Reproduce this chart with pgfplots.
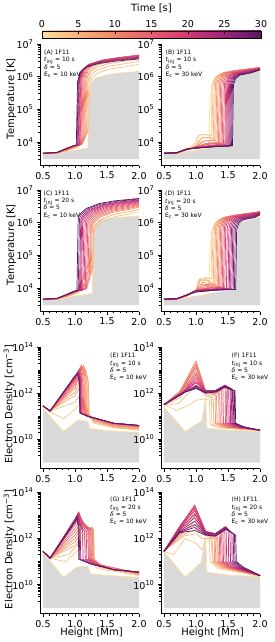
\documentclass[border=0pt]{standalone}
\usepackage{fontspec}
\setmainfont{DejaVu Sans}
\usepackage{pgfplots}
\pgfplotsset{compat=1.18}
\definecolor{c0}{RGB}{252,223,160}
\definecolor{c1}{RGB}{249,196,135}
\definecolor{c2}{RGB}{246,170,118}
\definecolor{c3}{RGB}{243,143,108}
\definecolor{c4}{RGB}{238,118,107}
\definecolor{c5}{RGB}{230,95,110}
\definecolor{c6}{RGB}{218,73,115}
\definecolor{c7}{RGB}{199,53,120}
\definecolor{c8}{RGB}{170,40,122}
\definecolor{c9}{RGB}{130,32,115}
\definecolor{c10}{RGB}{85,25,95}
\definecolor{m0}{RGB}{251,210,148}
\definecolor{m1}{RGB}{248,183,127}
\definecolor{m2}{RGB}{245,157,113}
\definecolor{m3}{RGB}{241,131,108}
\definecolor{m4}{RGB}{234,107,109}
\definecolor{m5}{RGB}{224,84,113}
\definecolor{m6}{RGB}{209,63,118}
\definecolor{m7}{RGB}{185,47,121}
\definecolor{m8}{RGB}{150,36,119}
\definecolor{m9}{RGB}{108,29,105}
\definecolor{fillgray}{RGB}{217,217,217}
\pgfplotsset{
  colormap={timecm}{rgb255=(252,223,160) rgb255=(249,196,135) rgb255=(246,170,118) rgb255=(243,143,108) rgb255=(238,118,107) rgb255=(230,95,110) rgb255=(218,73,115) rgb255=(199,53,120) rgb255=(170,40,122) rgb255=(130,32,115) rgb255=(85,25,95)},
  mypanel/.style={scale only axis, width=99pt, height=121.5pt, xmin=0.453, xmax=2.0,
    axis x line*=bottom, axis y line*=left,
    xtick={0.5,1.0,1.5,2.0}, xticklabels={0.5,1.0,1.5,2.0},
    minor xtick={0.6,0.7,0.8,0.9,1.1,1.2,1.3,1.4,1.6,1.7,1.8,1.9},
    tick align=outside, major tick length=3pt, minor tick length=1.7pt,
    every tick/.style={black, line width=0.6pt},
    axis line style={black, line width=0.7pt},
    tick label style={font=\fontsize{9.5}{11}\selectfont},
    label style={font=\fontsize{10}{12}\selectfont},
    clip=false, no markers,
    every axis plot/.append style={line width=0.7pt}},
  mytemp/.style={mypanel, ymin=1900, ymax=1e7, ytick={1e4,1e5,1e6,1e7},
    yticklabels={10\textsuperscript{4},10\textsuperscript{5},10\textsuperscript{6},10\textsuperscript{7}},
    minor ytick={3e3,4e3,5e3,6e3,7e3,8e3,9e3,2e4,3e4,4e4,5e4,6e4,7e4,8e4,9e4,2e5,3e5,4e5,5e5,6e5,7e5,8e5,9e5,2e6,3e6,4e6,5e6,6e6,7e6,8e6,9e6}},
  mydens/.style={mypanel, ymin=5.5e8, ymax=1e14, ytick={1e10,1e12,1e14},
    yticklabels={10\textsuperscript{10},10\textsuperscript{12},10\textsuperscript{14}},
    minor ytick={2e9,3e9,4e9,5e9,6e9,7e9,8e9,9e9,2e10,3e10,4e10,5e10,6e10,7e10,8e10,9e10,1e11,2e11,3e11,4e11,5e11,6e11,7e11,8e11,9e11,2e12,3e12,4e12,5e12,6e12,7e12,8e12,9e12,1e13,2e13,3e13,4e13,5e13,6e13,7e13,8e13,9e13}},
  mytlab/.style={ylabel={Temperature [K]}, ylabel style={at={(axis description cs:-0.288,0.55)}, anchor=center}},
  mydlab/.style={ylabel={Electron Density [cm\textsuperscript{−3}]}, ylabel style={at={(axis description cs:-0.313,0.53)}, anchor=center}},
  myhlab/.style={xlabel={Height [Mm]}, xlabel style={at={(axis description cs:0.52,-0.159)}, anchor=center}},
}
\tikzset{anno/.style={anchor=north west, inner sep=0pt, align=left, font=\fontsize{6}{7.3}\selectfont}}
\begin{document}
\begin{tikzpicture}[x=1pt,y=1pt]
\useasboundingbox (0,0) rectangle (275,-642);
% colorbar
\begin{axis}[at={(42pt,-29.3pt)}, anchor=south west, scale only axis, width=219pt, height=7pt, hide axis,
  xmin=0, xmax=1, ymin=0, ymax=1, colormap name=timecm, point meta min=0, point meta max=30,
  colorbar horizontal,
  colorbar style={at={(parent axis.south west)}, anchor=south west, scale only axis, width=219pt, height=7pt,
    xtick={0,5,10,15,20,25,30}, xticklabels={0,5,10,15,20,25,30},
    minor xtick={1,2,3,4,6,7,8,9,11,12,13,14,16,17,18,19,21,22,23,24,26,27,28,29},
    xticklabel pos=upper, xtick pos=right, tick align=inside, major tick length=3pt, minor tick length=1.5pt,
    every tick/.style={black, line width=0.5pt}, xlabel={Time [s]},
    tick label style={font=\fontsize{9.5}{11}\selectfont}, label style={font=\fontsize{10}{12}\selectfont}}]
\addplot[draw=none, forget plot] coordinates {(0,0)};
\end{axis}
% ---------------- A
\begin{axis}[mytemp, ymode=log, mytlab, at={(40pt,-165.5pt)}, anchor=south west]
\addplot[fill=fillgray, draw=none] coordinates {(0.5,3000)(0.5,4500)(0.72,4500)(0.9,5200)(1.1,6000)(1.2,6500)(1.22,2e5)(1.25,6e5)(1.32,9e5)(1.5,1.15e6)(1.75,1.32e6)(2.0,1.45e6)(2.0,3000)};
\addplot[c0] coordinates {(0.5,4500)(0.72,4500)(0.9,5200)(1.1,6000)(1.2,6500)(1.22,2e5)(1.25,6e5)(1.32,9e5)(1.5,1.15e6)(1.75,1.32e6)(2.0,1.45e6)};
\addplot[c1] coordinates {(0.5,4500)(0.72,4550)(0.9,5600)(1.05,7000)(1.13,1.2e4)(1.19,1.8e4)(1.21,2.2e4)(1.23,4.8e5)(1.27,9.1e5)(1.36,1.32e6)(1.56,1.73e6)(1.81,2.04e6)(2.0,2.4e6)};
\addplot[m1] coordinates {(0.5,4500)(0.72,4580)(0.9,5700)(1.03,7100)(1.12,1.15e4)(1.175,1.7e4)(1.195,2.0e4)(1.215,5.9e5)(1.255,1.12e6)(1.345,1.62e6)(1.545,2.12e6)(1.795,2.51e6)(2.0,2.95e6)};
\addplot[c2] coordinates {(0.5,4500)(0.72,4600)(0.9,5800)(1.02,7200)(1.1,1.1e4)(1.16,1.6e4)(1.18,1.8e4)(1.2,7e5)(1.24,1.33e6)(1.33,1.93e6)(1.53,2.52e6)(1.78,2.98e6)(2.0,3.5e6)};
\addplot[m2] coordinates {(0.5,4500)(0.72,4600)(0.9,5900)(1.02,7350)(1.1,1.05e4)(1.165,1.4e4)(1.185,7.9e5)(1.225,1.5e6)(1.315,2.17e6)(1.515,2.84e6)(1.765,3.36e6)(2.0,3.95e6)};
\addplot[c3] coordinates {(0.5,4500)(0.72,4600)(0.9,6000)(1.02,7500)(1.1,1.0e4)(1.15,1.2e4)(1.17,8.8e5)(1.21,1.67e6)(1.30,2.42e6)(1.50,3.17e6)(1.75,3.74e6)(2.0,4.4e6)};
\addplot[m3] coordinates {(0.5,4500)(0.72,4620)(0.9,6100)(1.02,7550)(1.1,9200)(1.135,1.05e4)(1.155,9.0e5)(1.195,1.71e6)(1.285,2.48e6)(1.485,3.24e6)(1.735,3.83e6)(2.0,4.5e6)};
\addplot[c4] coordinates {(0.5,4500)(0.72,4650)(0.9,6200)(1.02,7600)(1.1,8500)(1.12,9000)(1.14,9.2e5)(1.18,1.75e6)(1.27,2.53e6)(1.47,3.31e6)(1.72,3.91e6)(2.0,4.6e6)};
\addplot[m4] coordinates {(0.5,4500)(0.72,4680)(0.9,6250)(1.0,7500)(1.105,8600)(1.125,9.1e5)(1.165,1.73e6)(1.255,2.5e6)(1.455,3.28e6)(1.705,3.87e6)(2.0,4.55e6)};
\addplot[c5] coordinates {(0.5,4500)(0.72,4700)(0.9,6300)(1.0,7600)(1.09,8200)(1.11,9e5)(1.15,1.71e6)(1.24,2.48e6)(1.44,3.24e6)(1.69,3.83e6)(2.0,4.5e6)};
\addplot[m5] coordinates {(0.5,4500)(0.72,4700)(0.9,6350)(1.0,7650)(1.08,8100)(1.10,8.8e5)(1.14,1.67e6)(1.23,2.42e6)(1.43,3.17e6)(1.68,3.74e6)(2.0,4.4e6)};
\addplot[c6] coordinates {(0.5,4500)(0.72,4700)(0.9,6400)(1.0,7700)(1.07,8000)(1.09,8.6e5)(1.13,1.63e6)(1.22,2.37e6)(1.42,3.1e6)(1.67,3.66e6)(2.0,4.3e6)};
\addplot[m6] coordinates {(0.5,4500)(0.72,4720)(0.9,6450)(1.0,7750)(1.06,8000)(1.08,8.4e5)(1.12,1.6e6)(1.21,2.31e6)(1.41,3.02e6)(1.66,3.57e6)(2.0,4.2e6)};
\addplot[c7] coordinates {(0.5,4500)(0.72,4750)(0.9,6500)(1.0,7800)(1.05,8000)(1.07,8.2e5)(1.11,1.56e6)(1.2,2.26e6)(1.4,2.95e6)(1.65,3.49e6)(2.0,4.1e6)};
\addplot[c8] coordinates {(0.5,4500)(0.72,4800)(0.9,6600)(1.0,7800)(1.04,8000)(1.06,7.8e5)(1.1,1.48e6)(1.19,2.15e6)(1.39,2.81e6)(1.64,3.32e6)(2.0,3.9e6)};
\addplot[c9] coordinates {(0.5,4500)(0.72,4800)(0.9,6700)(1.0,7900)(1.03,8000)(1.05,7.4e5)(1.09,1.41e6)(1.18,2.04e6)(1.38,2.66e6)(1.63,3.15e6)(2.0,3.7e6)};
\addplot[c10] coordinates {(0.5,4500)(0.72,4800)(0.9,6800)(1.0,7900)(1.02,8000)(1.04,7e5)(1.08,1.33e6)(1.17,1.93e6)(1.37,2.52e6)(1.62,2.98e6)(2.0,3.5e6)};
\end{axis}
% ---------------- B
\begin{axis}[mytemp, ymode=log, at={(161pt,-165.5pt)}, anchor=south west]
\addplot[fill=fillgray, draw=none] coordinates {(0.5,3000)(0.5,4500)(0.72,4500)(0.9,5200)(1.1,6000)(1.2,6400)(1.3,7000)(1.57,7600)(1.585,5.6e5)(1.62,8.8e5)(1.7,1.1e6)(1.87,1.3e6)(2.0,1.45e6)(2.0,3000)};
\addplot[c0] coordinates {(0.5,4500)(0.72,4500)(0.9,5200)(1.1,6000)(1.2,6500)(1.22,2e5)(1.25,6e5)(1.32,9e5)(1.5,1.15e6)(1.75,1.32e6)(2.0,1.45e6)};
\addplot[m0] coordinates {(0.5,4500)(0.7,4600)(0.85,5500)(1.0,8000)(1.05,1.6e4)(1.15,1.7e4)(1.235,1.5e4)(1.25,5.6e5)(1.285,8.8e5)(1.355,1.12e6)(1.535,1.31e6)(2.0,1.6e6)};
\addplot[c1] coordinates {(0.5,4500)(0.7,4600)(0.85,5500)(0.98,9000)(1.02,1.5e4)(1.1,1.7e4)(1.2,1.6e4)(1.25,1.6e4)(1.265,6e5)(1.3,9.4e5)(1.37,1.19e6)(1.55,1.39e6)(2.0,1.7e6)};
\addplot[m1] coordinates {(0.5,4500)(0.7,4600)(0.85,5600)(1.0,7800)(1.1,1.4e4)(1.27,1.3e4)(1.285,6.2e5)(1.32,9.8e5)(1.39,1.25e6)(1.57,1.46e6)(2.0,1.78e6)};
\addplot[c2] coordinates {(0.5,4500)(0.7,4600)(0.85,5600)(1.0,7500)(1.08,1.3e4)(1.2,1.4e4)(1.29,1.2e4)(1.305,6.5e5)(1.34,1.02e6)(1.41,1.3e6)(1.59,1.52e6)(2.0,1.85e6)};
\addplot[m2] coordinates {(0.5,4500)(0.7,4600)(0.85,5650)(1.0,7300)(1.15,1.1e4)(1.31,1.1e4)(1.325,6.6e5)(1.36,1.03e6)(1.43,1.32e6)(1.61,1.54e6)(2.0,1.88e6)};
\addplot[c3] coordinates {(0.5,4500)(0.7,4600)(0.85,5700)(1.0,7200)(1.1,1.05e4)(1.25,1.15e4)(1.33,1.05e4)(1.345,6.6e5)(1.38,1.05e6)(1.45,1.33e6)(1.63,1.56e6)(2.0,1.9e6)};
\addplot[m3] coordinates {(0.5,4500)(0.7,4600)(0.85,5750)(1.0,7100)(1.2,9500)(1.35,9500)(1.365,6.65e5)(1.4,1.05e6)(1.47,1.33e6)(1.65,1.56e6)(2.0,1.9e6)};
\addplot[c4] coordinates {(0.5,4500)(0.7,4600)(0.85,5800)(1.0,7000)(1.15,9000)(1.37,9500)(1.385,6.6e5)(1.42,1.05e6)(1.49,1.33e6)(1.67,1.56e6)(2.0,1.9e6)};
\addplot[m4] coordinates {(0.5,4500)(0.7,4600)(0.85,5850)(1.0,7000)(1.2,8700)(1.39,9200)(1.405,6.6e5)(1.44,1.03e6)(1.51,1.32e6)(1.69,1.54e6)(2.0,1.88e6)};
\addplot[c5] coordinates {(0.5,4500)(0.7,4600)(0.85,5900)(1.0,7000)(1.2,8500)(1.41,9000)(1.425,6.5e5)(1.46,1.02e6)(1.53,1.3e6)(1.71,1.52e6)(2.0,1.85e6)};
\addplot[m5] coordinates {(0.5,4500)(0.7,4620)(0.85,5950)(1.0,6900)(1.3,8200)(1.43,8600)(1.445,6.4e5)(1.48,1.0e6)(1.55,1.28e6)(1.73,1.5e6)(2.0,1.83e6)};
\addplot[c6] coordinates {(0.5,4500)(0.7,4650)(0.85,6000)(1.0,6800)(1.3,8000)(1.45,8300)(1.465,6.3e5)(1.5,9.9e5)(1.57,1.26e6)(1.75,1.48e6)(2.0,1.8e6)};
\addplot[m6] coordinates {(0.5,4500)(0.7,4650)(0.85,6000)(1.0,6750)(1.3,7800)(1.465,8000)(1.48,6.2e5)(1.515,9.8e5)(1.585,1.25e6)(1.765,1.46e6)(2.0,1.78e6)};
\addplot[c7] coordinates {(0.5,4500)(0.7,4650)(0.85,6000)(1.0,6700)(1.3,7600)(1.48,7800)(1.495,6.1e5)(1.53,9.6e5)(1.6,1.23e6)(1.78,1.44e6)(2.0,1.75e6)};
\addplot[m7] coordinates {(0.5,4500)(0.7,4680)(0.85,6000)(1.0,6650)(1.3,7500)(1.495,7600)(1.51,6.1e5)(1.545,9.5e5)(1.615,1.21e6)(1.795,1.42e6)(2.0,1.73e6)};
\addplot[c8] coordinates {(0.5,4500)(0.7,4700)(0.85,6000)(1.0,6600)(1.3,7300)(1.51,7500)(1.525,6e5)(1.56,9.4e5)(1.63,1.19e6)(1.81,1.39e6)(2.0,1.7e6)};
\addplot[m8] coordinates {(0.5,4500)(0.7,4700)(0.85,6000)(1.0,6550)(1.3,7250)(1.525,7500)(1.54,5.9e5)(1.575,9.2e5)(1.645,1.18e6)(1.825,1.38e6)(2.0,1.68e6)};
\addplot[c9] coordinates {(0.5,4500)(0.7,4700)(0.85,6000)(1.0,6500)(1.3,7200)(1.54,7600)(1.555,5.8e5)(1.59,9.1e5)(1.66,1.16e6)(1.84,1.35e6)(2.0,1.65e6)};
\addplot[m9] coordinates {(0.5,4500)(0.7,4700)(0.85,6000)(1.0,6450)(1.3,7200)(1.555,7650)(1.57,5.7e5)(1.605,9.0e5)(1.675,1.14e6)(1.855,1.34e6)(2.0,1.63e6)};
\addplot[c10] coordinates {(0.5,4500)(0.7,4700)(0.85,6000)(1.0,6400)(1.3,7200)(1.57,7700)(1.585,5.6e5)(1.62,8.8e5)(1.69,1.12e6)(1.87,1.31e6)(2.0,1.6e6)};
\end{axis}
% ---------------- C
\begin{axis}[mytemp, ymode=log, mytlab, at={(40pt,-311.5pt)}, anchor=south west]
\addplot[fill=fillgray, draw=none] coordinates {(0.5,3000)(0.5,4500)(0.72,4500)(0.9,5200)(1.1,6000)(1.27,6800)(1.29,2.5e5)(1.31,8e5)(1.38,1.2e6)(1.6,1.4e6)(2.0,1.6e6)(2.0,3000)};
\addplot[c0] coordinates {(0.5,4500)(0.72,4500)(0.9,5200)(1.1,6000)(1.27,6800)(1.29,2.5e5)(1.31,8e5)(1.38,1.2e6)(1.6,1.4e6)(2.0,1.6e6)};
\addplot[c1] coordinates {(0.5,4500)(0.72,4550)(0.9,5600)(1.05,7000)(1.13,2e4)(1.2,5e4)(1.26,4e4)(1.28,4e4)(1.30,5.5e5)(1.34,7.7e5)(1.43,1.1e6)(1.63,1.54e6)(1.88,1.87e6)(2.0,2.2e6)};
\addplot[c2] coordinates {(0.5,4500)(0.72,4600)(0.9,5800)(1.02,7200)(1.15,3e4)(1.22,6e4)(1.26,3e4)(1.27,3e4)(1.29,6.5e5)(1.33,9.1e5)(1.42,1.3e6)(1.62,1.82e6)(1.87,2.2e6)(2.0,2.6e6)};
\addplot[c3] coordinates {(0.5,4500)(0.72,4600)(0.9,6000)(1.02,7500)(1.17,2.5e4)(1.22,3.5e4)(1.25,2.5e4)(1.27,7.5e5)(1.31,1.05e6)(1.4,1.5e6)(1.6,2.1e6)(1.85,2.55e6)(2.0,3.0e6)};
\addplot[m3] coordinates {(0.5,4500)(0.72,4620)(0.9,6100)(1.02,7550)(1.15,1.3e4)(1.235,2.0e4)(1.255,8e5)(1.295,1.12e6)(1.385,1.6e6)(1.585,2.24e6)(1.835,2.72e6)(2.0,3.2e6)};
\addplot[c4] coordinates {(0.5,4500)(0.72,4650)(0.9,6200)(1.02,7600)(1.15,1.2e4)(1.22,1.5e4)(1.24,8.5e5)(1.28,1.19e6)(1.37,1.7e6)(1.57,2.38e6)(1.82,2.89e6)(2.0,3.4e6)};
\addplot[m4] coordinates {(0.5,4500)(0.72,4680)(0.9,6250)(1.0,7500)(1.2,1.1e4)(1.22,9e5)(1.26,1.26e6)(1.35,1.8e6)(1.55,2.52e6)(1.8,3.06e6)(2.0,3.6e6)};
\addplot[c5] coordinates {(0.5,4500)(0.72,4700)(0.9,6300)(1.0,7600)(1.18,9500)(1.2,9.5e5)(1.24,1.33e6)(1.33,1.9e6)(1.53,2.66e6)(1.78,3.23e6)(2.0,3.8e6)};
\addplot[m5] coordinates {(0.5,4500)(0.72,4700)(0.9,6350)(1.0,7650)(1.16,9200)(1.18,1.0e6)(1.22,1.4e6)(1.31,2.0e6)(1.51,2.8e6)(1.76,3.4e6)(2.0,4.0e6)};
\addplot[c6] coordinates {(0.5,4500)(0.72,4700)(0.9,6400)(1.0,7700)(1.14,9000)(1.16,1.05e6)(1.2,1.47e6)(1.29,2.1e6)(1.49,2.94e6)(1.74,3.57e6)(2.0,4.2e6)};
\addplot[m6] coordinates {(0.5,4500)(0.72,4720)(0.9,6450)(1.0,7750)(1.12,8700)(1.14,1.1e6)(1.18,1.54e6)(1.27,2.2e6)(1.47,3.08e6)(1.72,3.74e6)(2.0,4.4e6)};
\addplot[c7] coordinates {(0.5,4500)(0.72,4750)(0.9,6500)(1.0,7800)(1.1,8500)(1.12,1.15e6)(1.16,1.61e6)(1.25,2.3e6)(1.45,3.22e6)(1.7,3.91e6)(2.0,4.6e6)};
\addplot[m7] coordinates {(0.5,4500)(0.72,4780)(0.9,6550)(1.0,7800)(1.085,8500)(1.105,1.2e6)(1.145,1.68e6)(1.235,2.4e6)(1.435,3.36e6)(1.685,4.08e6)(2.0,4.8e6)};
\addplot[c8] coordinates {(0.5,4500)(0.72,4800)(0.9,6600)(1.0,7800)(1.07,8500)(1.09,1.25e6)(1.13,1.75e6)(1.22,2.5e6)(1.42,3.5e6)(1.67,4.25e6)(2.0,5.0e6)};
\addplot[c9] coordinates {(0.5,4500)(0.72,4800)(0.9,6700)(0.98,7900)(1.05,8500)(1.07,1.33e6)(1.11,1.86e6)(1.2,2.65e6)(1.4,3.71e6)(1.65,4.5e6)(2.0,5.3e6)};
\addplot[c10] coordinates {(0.5,4500)(0.72,4800)(0.9,6700)(0.98,7900)(1.03,8500)(1.05,1.38e6)(1.09,1.93e6)(1.18,2.75e6)(1.38,3.85e6)(1.63,4.68e6)(2.0,5.5e6)};
\end{axis}
% ---------------- D
\begin{axis}[mytemp, ymode=log, at={(161pt,-311.5pt)}, anchor=south west]
\addplot[fill=fillgray, draw=none] coordinates {(0.5,3000)(0.5,4500)(0.72,4500)(0.9,5200)(1.1,6000)(1.2,6500)(1.22,7000)(1.62,8800)(1.635,6.1e5)(1.67,9e5)(1.75,1.1e6)(2.0,1.45e6)(2.0,3000)};
\addplot[c0] coordinates {(0.5,4500)(0.72,4500)(0.9,5200)(1.1,6000)(1.2,6500)(1.22,2e5)(1.25,6e5)(1.32,9e5)(1.5,1.15e6)(1.75,1.32e6)(2.0,1.45e6)};
\addplot[m0] coordinates {(0.5,4500)(0.7,4600)(0.85,5500)(1.0,8500)(1.05,1.9e4)(1.15,2.1e4)(1.235,1.9e4)(1.25,5.7e5)(1.285,8.9e5)(1.355,1.13e6)(1.535,1.33e6)(2.0,1.62e6)};
\addplot[c1] coordinates {(0.5,4500)(0.7,4600)(0.85,5500)(1.0,8500)(1.05,1.8e4)(1.2,2.0e4)(1.25,1.9e4)(1.265,6.3e5)(1.3,9.9e5)(1.37,1.26e6)(1.55,1.48e6)(2.0,1.8e6)};
\addplot[m1] coordinates {(0.5,4500)(0.7,4600)(0.85,5550)(1.0,8500)(1.06,1.75e4)(1.2,1.7e4)(1.27,1.35e4)(1.285,6.65e5)(1.32,1.05e6)(1.39,1.33e6)(1.57,1.56e6)(2.0,1.9e6)};
\addplot[c2] coordinates {(0.5,4500)(0.7,4600)(0.85,5600)(1.0,8500)(1.07,1.7e4)(1.16,1.8e4)(1.22,1.4e4)(1.29,1.3e4)(1.305,7e5)(1.34,1.1e6)(1.41,1.4e6)(1.59,1.64e6)(2.0,2.0e6)};
\addplot[m2] coordinates {(0.5,4500)(0.7,4600)(0.85,5650)(1.0,8500)(1.1,1.5e4)(1.31,1.25e4)(1.325,7.2e5)(1.36,1.13e6)(1.43,1.44e6)(1.61,1.68e6)(2.0,2.05e6)};
\addplot[c3] coordinates {(0.5,4500)(0.7,4600)(0.85,5700)(1.0,8500)(1.1,1.3e4)(1.25,1.25e4)(1.33,1.2e4)(1.345,7.4e5)(1.38,1.16e6)(1.45,1.47e6)(1.63,1.72e6)(2.0,2.1e6)};
\addplot[m3] coordinates {(0.5,4500)(0.7,4600)(0.85,5750)(1.0,8500)(1.12,1.2e4)(1.35,1.15e4)(1.365,7.4e5)(1.4,1.17e6)(1.47,1.48e6)(1.65,1.74e6)(2.0,2.12e6)};
\addplot[c4] coordinates {(0.5,4500)(0.7,4600)(0.85,5800)(1.0,8500)(1.15,1.1e4)(1.37,1.1e4)(1.385,7.5e5)(1.42,1.18e6)(1.49,1.5e6)(1.67,1.76e6)(2.0,2.15e6)};
\addplot[m4] coordinates {(0.5,4500)(0.7,4600)(0.85,5850)(1.0,8500)(1.2,1.05e4)(1.39,1.07e4)(1.405,7.5e5)(1.44,1.18e6)(1.51,1.5e6)(1.69,1.76e6)(2.0,2.15e6)};
\addplot[c5] coordinates {(0.5,4500)(0.7,4600)(0.85,5900)(1.0,8500)(1.2,1.0e4)(1.41,1.05e4)(1.425,7.5e5)(1.46,1.18e6)(1.53,1.5e6)(1.71,1.76e6)(2.0,2.15e6)};
\addplot[m5] coordinates {(0.5,4500)(0.7,4620)(0.85,5950)(1.0,8500)(1.25,1.0e4)(1.43,1.02e4)(1.445,7.4e5)(1.48,1.17e6)(1.55,1.48e6)(1.73,1.74e6)(2.0,2.12e6)};
\addplot[c6] coordinates {(0.5,4500)(0.7,4650)(0.85,6000)(1.0,8500)(1.3,9500)(1.45,1.0e4)(1.465,7.4e5)(1.5,1.16e6)(1.57,1.47e6)(1.75,1.72e6)(2.0,2.1e6)};
\addplot[m6] coordinates {(0.5,4500)(0.7,4650)(0.85,6000)(1.0,8400)(1.3,9300)(1.475,9700)(1.49,7.3e5)(1.525,1.14e6)(1.595,1.46e6)(1.775,1.71e6)(2.0,2.08e6)};
\addplot[c7] coordinates {(0.5,4500)(0.7,4650)(0.85,6000)(1.0,8300)(1.3,9200)(1.5,9500)(1.515,7.2e5)(1.55,1.13e6)(1.62,1.44e6)(1.8,1.68e6)(2.0,2.05e6)};
\addplot[m7] coordinates {(0.5,4500)(0.7,4680)(0.85,6000)(1.0,8150)(1.3,9100)(1.52,9400)(1.535,7.0e5)(1.57,1.1e6)(1.64,1.4e6)(1.82,1.64e6)(2.0,2.0e6)};
\addplot[c8] coordinates {(0.5,4500)(0.7,4700)(0.85,6000)(1.0,8000)(1.3,9000)(1.54,9300)(1.555,6.8e5)(1.59,1.07e6)(1.66,1.37e6)(1.84,1.6e6)(2.0,1.95e6)};
\addplot[m8] coordinates {(0.5,4500)(0.7,4700)(0.85,6000)(1.0,7900)(1.3,8900)(1.56,9200)(1.575,6.65e5)(1.61,1.05e6)(1.68,1.33e6)(1.86,1.56e6)(2.0,1.9e6)};
\addplot[c9] coordinates {(0.5,4500)(0.7,4700)(0.85,6000)(1.0,7800)(1.3,8800)(1.58,9100)(1.595,6.5e5)(1.63,1.02e6)(1.7,1.3e6)(1.88,1.52e6)(2.0,1.85e6)};
\addplot[m9] coordinates {(0.5,4500)(0.7,4700)(0.85,6000)(1.0,7650)(1.3,8600)(1.6,9050)(1.615,6.3e5)(1.65,9.9e5)(1.72,1.26e6)(1.9,1.48e6)(2.0,1.8e6)};
\addplot[c10] coordinates {(0.5,4500)(0.7,4700)(0.85,6000)(1.0,7500)(1.3,8500)(1.62,9000)(1.635,6.1e5)(1.67,9.6e5)(1.74,1.23e6)(1.92,1.44e6)(2.0,1.75e6)};
\end{axis}
% ---------------- E
\begin{axis}[mydens, ymode=log, mydlab, at={(40pt,-468.5pt)}, anchor=south west]
\addplot[fill=fillgray, draw=none] coordinates {(0.5,1e9)(0.5,2.2e11)(0.82,2.2e10)(1.05,7e10)(1.2,6e10)(1.23,3e10)(1.5,2.4e10)(2.0,2.0e10)(2.0,1e9)};
\addplot[c0] coordinates {(0.5,2.2e11)(0.82,2.2e10)(1.05,7e10)(1.2,6e10)(1.23,3e10)(1.5,2.4e10)(2.0,2.0e10)};
\addplot[c1] coordinates {(0.5,2.8e11)(0.6,1.6e11)(0.82,7.9e10)(1.0,2.0e11)(1.15,6.3e11)(1.21,2.0e12)(1.225,1.0e11)(1.3,5.0e10)(1.6,3.2e10)(2.0,2.5e10)};
\addplot[m1] coordinates {(0.5,2.8e11)(0.6,1.63e11)(1.0,4.0e11)(1.14,1.6e12)(1.19,5.0e12)(1.21,3.0e12)(1.215,1.1e11)(1.3,5.6e10)(1.6,3.4e10)(2.0,2.6e10)};
\addplot[c2] coordinates {(0.5,2.8e11)(0.6,1.66e11)(1.0,7.9e11)(1.12,3.2e12)(1.17,1.0e13)(1.2,4.0e12)(1.21,1.26e11)(1.3,6.3e10)(1.6,3.5e10)(2.0,2.8e10)};
\addplot[m2] coordinates {(0.5,2.8e11)(0.6,1.68e11)(1.0,1.1e12)(1.11,6.3e12)(1.15,1.3e13)(1.185,4.5e12)(1.195,1.3e11)(1.3,6.7e10)(1.6,3.8e10)(2.0,3.0e10)};
\addplot[c3] coordinates {(0.5,2.8e11)(0.61,1.7e11)(1.0,1.6e12)(1.1,1.0e13)(1.13,1.6e13)(1.17,5.0e12)(1.18,1.4e11)(1.3,7.1e10)(1.6,4.0e10)(2.0,3.2e10)};
\addplot[m3] coordinates {(0.5,2.8e11)(0.61,1.7e11)(1.0,2.0e12)(1.1,1.3e13)(1.135,1.1e13)(1.155,5.5e12)(1.165,1.4e11)(1.28,8e10)(1.6,4.2e10)(2.0,3.3e10)};
\addplot[c4] coordinates {(0.5,2.8e11)(0.61,1.7e11)(1.0,2.5e12)(1.1,1.6e13)(1.14,6.3e12)(1.15,1.4e11)(1.25,8.9e10)(1.6,4.5e10)(2.0,3.5e10)};
\addplot[m4] coordinates {(0.5,2.8e11)(0.61,1.7e11)(1.0,3.0e12)(1.09,1.4e13)(1.125,5.6e12)(1.135,1.4e11)(1.24,9.4e10)(1.6,4.7e10)(2.0,3.6e10)};
\addplot[c5] coordinates {(0.5,2.8e11)(0.61,1.7e11)(1.0,3.5e12)(1.08,1.26e13)(1.11,5.0e12)(1.12,1.4e11)(1.22,1.0e11)(1.6,5.0e10)(2.0,3.8e10)};
\addplot[m5] coordinates {(0.5,2.8e11)(0.61,1.7e11)(1.0,4.0e12)(1.07,1.1e13)(1.1,5.0e12)(1.11,1.4e11)(1.21,1.0e11)(1.6,5.0e10)(2.0,3.9e10)};
\addplot[c6] coordinates {(0.5,2.8e11)(0.61,1.7e11)(1.0,4.5e12)(1.06,1.0e13)(1.09,5.0e12)(1.1,1.4e11)(1.2,1.0e11)(1.6,5.0e10)(2.0,4.0e10)};
\addplot[m6] coordinates {(0.5,2.8e11)(0.61,1.7e11)(1.0,4.7e12)(1.055,9.4e12)(1.085,4.5e12)(1.095,1.4e11)(1.2,1.0e11)(1.6,5.0e10)(2.0,4.0e10)};
\addplot[c7] coordinates {(0.5,2.8e11)(0.61,1.7e11)(1.0,5.0e12)(1.05,8.9e12)(1.08,4.0e12)(1.09,1.4e11)(1.2,1.0e11)(1.6,5.0e10)(2.0,4.0e10)};
\addplot[m7] coordinates {(0.5,2.8e11)(0.61,1.7e11)(1.0,5.3e12)(1.05,8.4e12)(1.078,3.7e12)(1.088,1.4e11)(1.2,1.0e11)(1.6,5.0e10)(2.0,4.0e10)};
\addplot[c8] coordinates {(0.5,2.8e11)(0.61,1.7e11)(1.0,5.6e12)(1.05,7.9e12)(1.075,3.5e12)(1.085,1.4e11)(1.2,1.0e11)(1.6,5.0e10)(2.0,4.0e10)};
\addplot[c9] coordinates {(0.5,2.8e11)(0.61,1.7e11)(1.0,5.6e12)(1.04,7.1e12)(1.07,3.2e12)(1.08,1.4e11)(1.2,1.0e11)(1.6,5.0e10)(2.0,4.0e10)};
\addplot[c10] coordinates {(0.5,2.8e11)(0.61,1.7e11)(1.0,5.6e12)(1.04,7.1e12)(1.065,2.8e12)(1.075,1.4e11)(1.2,1.0e11)(1.6,5.0e10)(2.0,4.0e10)};
\end{axis}
% ---------------- F
\begin{axis}[mydens, ymode=log, at={(161pt,-468.5pt)}, anchor=south west]
\addplot[fill=fillgray, draw=none] coordinates {(0.5,1e9)(0.5,2.5e11)(0.83,2.2e10)(1.09,6.3e10)(1.15,6e11)(1.17,3e10)(1.5,2.5e10)(2.0,2.2e10)(2.0,1e9)};
\addplot[c0] coordinates {(0.5,2.5e11)(0.83,2.2e10)(1.09,6.3e10)(1.15,6.0e11)(1.17,3.0e10)(1.5,2.5e10)(2.0,2.2e10)};
\addplot[c1] coordinates {(0.5,3.2e11)(0.7,1.8e11)(0.9,3.2e11)(1.0,5.0e11)(1.15,5.6e11)(1.21,5.0e11)(1.22,4.5e10)(1.35,3.2e10)(2.0,2.4e10)};
\addplot[m1] coordinates {(0.5,3.2e11)(0.72,3.5e11)(1.0,2.2e12)(1.15,7.9e11)(1.24,6.3e11)(1.25,4.5e10)(1.38,3.2e10)(2.0,2.4e10)};
\addplot[c2] coordinates {(0.5,3.2e11)(0.75,6.3e11)(1.0,1.0e13)(1.15,1.0e12)(1.27,6.3e11)(1.28,5.0e10)(1.4,3.5e10)(2.0,2.5e10)};
\addplot[m2] coordinates {(0.5,3.2e11)(0.75,1.0e12)(1.0,1.6e13)(1.15,1.12e12)(1.3,7.9e11)(1.305,5.0e10)(1.42,3.5e10)(2.0,2.5e10)};
\addplot[c3] coordinates {(0.5,3.2e11)(0.75,1.26e12)(1.0,2.5e13)(1.15,1.26e12)(1.32,7.9e11)(1.33,5.0e10)(1.45,3.5e10)(2.0,2.5e10)};
\addplot[m3] coordinates {(0.5,3.2e11)(0.75,1.12e12)(1.0,2.0e13)(1.15,1.26e12)(1.3,1.0e12)(1.355,1.0e12)(1.36,5.0e10)(1.48,3.5e10)(2.0,2.5e10)};
\addplot[c4] coordinates {(0.5,3.2e11)(0.75,1.0e12)(1.0,1.6e13)(1.15,1.26e12)(1.3,1.0e12)(1.37,1.26e12)(1.38,5.0e10)(1.5,3.5e10)(2.0,2.5e10)};
\addplot[m4] coordinates {(0.5,3.2e11)(0.75,1.0e12)(1.0,1.26e13)(1.15,1.26e12)(1.3,1.0e12)(1.4,1.4e12)(1.405,5.0e10)(1.52,3.5e10)(2.0,2.5e10)};
\addplot[c5] coordinates {(0.5,3.2e11)(0.75,1.0e12)(1.0,7.9e12)(1.15,1.26e12)(1.3,1.12e12)(1.42,1.6e12)(1.43,5.0e10)(1.55,3.5e10)(2.0,2.5e10)};
\addplot[m5] coordinates {(0.5,3.2e11)(0.78,1.06e12)(1.0,6.3e12)(1.15,1.26e12)(1.3,1.2e12)(1.44,1.8e12)(1.455,1.6e12)(1.46,5.0e10)(1.58,3.5e10)(2.0,2.5e10)};
\addplot[c6] coordinates {(0.5,3.2e11)(0.8,1.12e12)(1.0,5.0e12)(1.15,1.26e12)(1.3,1.26e12)(1.45,2.0e12)(1.47,1.6e12)(1.48,5.0e10)(1.6,3.5e10)(2.0,2.5e10)};
\addplot[m6] coordinates {(0.5,3.2e11)(0.8,1.12e12)(1.0,4.0e12)(1.15,1.26e12)(1.3,1.26e12)(1.45,2.1e12)(1.495,1.6e12)(1.5,5.0e10)(1.62,3.5e10)(2.0,2.5e10)};
\addplot[c7] coordinates {(0.5,3.2e11)(0.8,1.12e12)(1.0,3.2e12)(1.15,1.26e12)(1.3,1.26e12)(1.45,2.2e12)(1.51,1.6e12)(1.52,5.0e10)(1.65,3.5e10)(2.0,2.5e10)};
\addplot[m7] coordinates {(0.5,3.2e11)(0.8,1.12e12)(1.0,2.8e12)(1.15,1.26e12)(1.3,1.26e12)(1.45,2.2e12)(1.535,1.6e12)(1.54,5.0e10)(1.67,3.5e10)(2.0,2.5e10)};
\addplot[c8] coordinates {(0.5,3.2e11)(0.8,1.12e12)(1.0,2.2e12)(1.15,1.26e12)(1.3,1.26e12)(1.45,2.2e12)(1.55,1.6e12)(1.56,5.0e10)(1.7,3.5e10)(2.0,2.5e10)};
\addplot[m8] coordinates {(0.5,3.2e11)(0.82,1.12e12)(1.0,2.0e12)(1.15,1.2e12)(1.3,1.26e12)(1.45,2.1e12)(1.57,1.4e12)(1.575,5.0e10)(1.71,3.5e10)(2.0,2.5e10)};
\addplot[c9] coordinates {(0.5,3.2e11)(0.83,1.12e12)(1.0,1.8e12)(1.15,1.12e12)(1.3,1.26e12)(1.45,2.0e12)(1.58,1.26e12)(1.59,5.0e10)(1.72,3.5e10)(2.0,2.5e10)};
\addplot[m9] coordinates {(0.5,3.2e11)(0.83,1.12e12)(1.0,1.7e12)(1.15,1.06e12)(1.3,1.2e12)(1.45,1.9e12)(1.6,1.26e12)(1.605,5.0e10)(1.73,3.5e10)(2.0,2.5e10)};
\addplot[c10] coordinates {(0.5,3.2e11)(0.83,1.12e12)(1.0,1.6e12)(1.15,1.0e12)(1.3,1.12e12)(1.45,1.8e12)(1.61,1.26e12)(1.62,5.0e10)(1.75,3.5e10)(2.0,2.5e10)};
\end{axis}
% ---------------- G
\begin{axis}[mydens, ymode=log, mydlab, myhlab, at={(40pt,-613.8pt)}, anchor=south west]
\addplot[fill=fillgray, draw=none] coordinates {(0.5,1e9)(0.5,2.5e11)(0.82,2.1e10)(1.03,5.9e10)(1.2,6.3e10)(1.24,3.0e10)(1.5,2.5e10)(2.0,2.1e10)(2.0,1e9)};
\addplot[c0] coordinates {(0.5,2.5e11)(0.82,2.1e10)(1.03,5.9e10)(1.2,6.3e10)(1.24,3.0e10)(1.5,2.5e10)(2.0,2.1e10)};
\addplot[c1] coordinates {(0.5,2.8e11)(0.61,1.4e11)(0.85,1.0e11)(1.1,4.0e11)(1.2,7.9e11)(1.23,1.26e12)(1.24,1.0e11)(1.35,5.0e10)(2.0,2.5e10)};
\addplot[m1] coordinates {(0.5,2.8e11)(0.61,1.4e11)(0.9,2.0e11)(1.1,8e11)(1.2,1.6e12)(1.25,2.0e12)(1.26,1.1e11)(1.38,5.6e10)(2.0,2.6e10)};
\addplot[c2] coordinates {(0.5,2.8e11)(0.61,1.4e11)(1.0,5.0e11)(1.2,2.5e12)(1.27,3.2e12)(1.28,1.26e11)(1.4,6.3e10)(2.0,2.8e10)};
\addplot[m2] coordinates {(0.5,2.8e11)(0.61,1.4e11)(1.0,7.1e11)(1.15,2.8e12)(1.27,2.8e12)(1.29,2.5e12)(1.295,1.26e11)(1.4,6.7e10)(2.0,2.9e10)};
\addplot[c3] coordinates {(0.5,2.8e11)(0.61,1.4e11)(1.0,1.0e12)(1.12,3.2e12)(1.25,2.5e12)(1.29,2.2e12)(1.3,1.26e11)(1.4,7.1e10)(2.0,3.0e10)};
\addplot[m3] coordinates {(0.5,2.8e11)(0.61,1.4e11)(1.0,1.4e12)(1.11,4.0e12)(1.22,2.8e12)(1.28,2.3e12)(1.285,1.26e11)(1.4,7.1e10)(2.0,3.1e10)};
\addplot[c4] coordinates {(0.5,2.8e11)(0.61,1.4e11)(1.0,2.0e12)(1.1,5.0e12)(1.2,3.2e12)(1.26,2.5e12)(1.27,1.26e11)(1.4,7.1e10)(2.0,3.2e10)};
\addplot[m4] coordinates {(0.5,2.8e11)(0.61,1.4e11)(1.0,2.8e12)(1.08,7.1e12)(1.18,3.5e12)(1.245,2.3e12)(1.255,1.26e11)(1.38,7.5e10)(1.6,4.5e10)(2.0,3.2e10)};
\addplot[c5] coordinates {(0.5,2.8e11)(0.61,1.4e11)(1.0,4.0e12)(1.07,1.0e13)(1.15,4.0e12)(1.23,2.2e12)(1.24,1.26e11)(1.35,7.9e10)(1.6,4.5e10)(2.0,3.2e10)};
\addplot[m5] coordinates {(0.5,2.8e11)(0.61,1.4e11)(1.0,5.0e12)(1.065,1.2e13)(1.13,4.0e12)(1.215,2.3e12)(1.225,1.26e11)(1.35,7.9e10)(1.6,4.5e10)(2.0,3.4e10)};
\addplot[c6] coordinates {(0.5,2.8e11)(0.61,1.4e11)(1.0,6.3e12)(1.06,1.4e13)(1.12,4.0e12)(1.2,2.5e12)(1.21,1.26e11)(1.35,7.9e10)(1.6,4.5e10)(2.0,3.5e10)};
\addplot[m6] coordinates {(0.5,2.8e11)(0.61,1.4e11)(1.0,6.7e12)(1.055,1.3e13)(1.11,3.6e12)(1.175,2.2e12)(1.185,1.26e11)(1.32,7.9e10)(1.6,4.5e10)(2.0,3.5e10)};
\addplot[c7] coordinates {(0.5,2.8e11)(0.61,1.4e11)(1.0,7.1e12)(1.05,1.26e13)(1.1,3.2e12)(1.15,2.0e12)(1.16,1.26e11)(1.3,7.9e10)(1.6,4.5e10)(2.0,3.5e10)};
\addplot[m7] coordinates {(0.5,2.8e11)(0.61,1.4e11)(1.0,6.7e12)(1.045,1.1e13)(1.09,3.2e12)(1.12,2.2e12)(1.125,1.26e11)(1.28,7.9e10)(1.6,4.5e10)(2.0,3.5e10)};
\addplot[c8] coordinates {(0.5,2.8e11)(0.61,1.4e11)(1.0,6.3e12)(1.04,1.0e13)(1.08,3.2e12)(1.09,1.26e11)(1.25,7.9e10)(1.6,4.5e10)(2.0,3.5e10)};
\addplot[c9] coordinates {(0.5,2.8e11)(0.61,1.4e11)(1.0,5.6e12)(1.04,8.9e12)(1.065,2.5e12)(1.075,1.26e11)(1.25,7.9e10)(1.6,4.5e10)(2.0,3.5e10)};
\addplot[c10] coordinates {(0.5,2.8e11)(0.61,1.4e11)(1.0,5.0e12)(1.03,7.9e12)(1.05,3.2e12)(1.06,1.26e11)(1.25,7.9e10)(1.6,4.5e10)(2.0,3.5e10)};
\end{axis}
% ---------------- H
\begin{axis}[mydens, ymode=log, myhlab, at={(161pt,-613.8pt)}, anchor=south west]
\addplot[fill=fillgray, draw=none] coordinates {(0.5,1e9)(0.5,2.8e11)(0.83,2.1e10)(1.08,9.5e10)(1.15,1.0e12)(1.17,3.5e10)(1.5,2.6e10)(2.0,2.2e10)(2.0,1e9)};
\addplot[c0] coordinates {(0.5,2.8e11)(0.83,2.1e10)(1.08,9.5e10)(1.15,1.0e12)(1.17,3.5e10)(1.5,2.6e10)(2.0,2.2e10)};
\addplot[c1] coordinates {(0.5,2.8e11)(0.65,2.0e11)(0.83,1.0e12)(1.0,6.3e11)(1.1,3.2e11)(1.15,1.0e12)(1.21,1.0e12)(1.22,1.0e11)(1.35,5.0e10)(2.0,2.3e10)};
\addplot[m1] coordinates {(0.5,2.8e11)(0.8,1.26e12)(1.0,1.6e12)(1.1,1.0e12)(1.2,1.0e12)(1.245,1.0e12)(1.25,1.0e11)(1.38,5.3e10)(2.0,2.4e10)};
\addplot[c2] coordinates {(0.5,2.8e11)(0.83,1.6e12)(1.0,2.5e12)(1.1,1.6e12)(1.25,1.0e12)(1.27,1.0e11)(1.4,5.6e10)(2.0,2.5e10)};
\addplot[m2] coordinates {(0.5,2.8e11)(0.8,1.8e12)(1.0,4.0e12)(1.15,1.6e12)(1.285,1.0e12)(1.29,1.0e11)(1.42,5.6e10)(2.0,2.5e10)};
\addplot[c3] coordinates {(0.5,2.8e11)(0.8,2.0e12)(1.0,6.3e12)(1.15,1.6e12)(1.3,1.0e12)(1.31,1.0e11)(1.45,5.6e10)(2.0,2.5e10)};
\addplot[m3] coordinates {(0.5,2.8e11)(0.78,2.2e12)(0.99,1.0e13)(1.15,1.8e12)(1.325,1.1e12)(1.33,1.0e11)(1.47,5.6e10)(2.0,2.5e10)};
\addplot[c4] coordinates {(0.5,2.8e11)(0.75,2.5e12)(0.98,1.26e13)(1.15,2.0e12)(1.34,1.26e12)(1.35,1.0e11)(1.5,5.6e10)(2.0,2.5e10)};
\addplot[m4] coordinates {(0.5,2.8e11)(0.75,2.8e12)(0.98,1.8e13)(1.15,2.0e12)(1.3,1.4e12)(1.365,1.4e12)(1.37,1.0e11)(1.51,5.6e10)(2.0,2.5e10)};
\addplot[c5] coordinates {(0.5,2.8e11)(0.75,3.2e12)(0.98,2.2e13)(1.15,2.0e12)(1.3,1.6e12)(1.38,1.6e12)(1.39,1.0e11)(1.52,5.6e10)(2.0,2.5e10)};
\addplot[m5] coordinates {(0.5,2.8e11)(0.75,3.4e12)(0.98,2.5e13)(1.15,2.0e12)(1.3,1.6e12)(1.4,2.0e12)(1.41,1.0e11)(1.53,5.6e10)(2.0,2.5e10)};
\addplot[c6] coordinates {(0.5,2.8e11)(0.75,3.5e12)(0.98,2.8e13)(1.15,2.0e12)(1.3,1.6e12)(1.42,2.5e12)(1.43,1.0e11)(1.55,5.6e10)(2.0,2.5e10)};
\addplot[m6] coordinates {(0.5,2.8e11)(0.75,3.4e12)(0.98,2.2e13)(1.15,2.0e12)(1.3,1.6e12)(1.44,2.8e12)(1.45,2.5e12)(1.455,1.0e11)(1.58,5.6e10)(2.0,2.5e10)};
\addplot[c7] coordinates {(0.5,2.8e11)(0.75,3.2e12)(0.98,1.6e13)(1.15,2.0e12)(1.3,1.6e12)(1.45,3.2e12)(1.47,2.5e12)(1.48,1.0e11)(1.6,5.6e10)(2.0,2.5e10)};
\addplot[m7] coordinates {(0.5,2.8e11)(0.75,2.8e12)(0.98,1.1e13)(1.15,1.9e12)(1.3,1.6e12)(1.46,3.2e12)(1.505,2.2e12)(1.51,1.0e11)(1.63,5.6e10)(2.0,2.5e10)};
\addplot[c8] coordinates {(0.5,2.8e11)(0.75,2.5e12)(0.98,7.9e12)(1.15,1.8e12)(1.3,1.6e12)(1.47,3.2e12)(1.53,2.0e12)(1.54,1.0e11)(1.65,5.6e10)(2.0,2.5e10)};
\addplot[m8] coordinates {(0.5,2.8e11)(0.75,2.2e12)(0.98,5.6e12)(1.15,1.7e12)(1.3,1.5e12)(1.47,3.0e12)(1.56,1.8e12)(1.565,1.0e11)(1.68,5.6e10)(2.0,2.5e10)};
\addplot[c9] coordinates {(0.5,2.8e11)(0.75,2.0e12)(0.98,4.0e12)(1.15,1.6e12)(1.3,1.4e12)(1.47,2.8e12)(1.58,1.6e12)(1.59,1.0e11)(1.7,5.6e10)(2.0,2.5e10)};
\addplot[m9] coordinates {(0.5,2.8e11)(0.75,1.9e12)(0.98,3.0e12)(1.15,1.5e12)(1.3,1.3e12)(1.47,2.6e12)(1.6,1.5e12)(1.61,1.0e11)(1.72,5.6e10)(2.0,2.5e10)};
\addplot[c10] coordinates {(0.5,2.8e11)(0.75,1.8e12)(0.98,2.2e12)(1.15,1.4e12)(1.3,1.26e12)(1.47,2.5e12)(1.62,1.4e12)(1.63,1.0e11)(1.75,5.6e10)(2.0,2.5e10)};
\end{axis}
% annotations
\node[anno] at (44,-49.7) {(A) 1F11\\\textit{t}\textsubscript{inj} = 10 s\\\textit{δ} = 5\\E\textsubscript{c} = 10 keV};
\node[anno] at (165.5,-49.7) {(B) 1F11\\\textit{t}\textsubscript{inj} = 10 s\\\textit{δ} = 5\\E\textsubscript{c} = 30 keV};
\node[anno] at (43.5,-190.5) {(C) 1F11\\\textit{t}\textsubscript{inj} = 20 s\\\textit{δ} = 5\\E\textsubscript{c} = 10 keV};
\node[anno] at (165,-191) {(D) 1F11\\\textit{t}\textsubscript{inj} = 20 s\\\textit{δ} = 5\\E\textsubscript{c} = 30 keV};
\node[anno] at (110,-353) {(E) 1F11\\\textit{t}\textsubscript{inj} = 10 s\\\textit{δ} = 5\\E\textsubscript{c} = 10 keV};
\node[anno] at (231.5,-353) {(F) 1F11\\\textit{t}\textsubscript{inj} = 10 s\\\textit{δ} = 5\\E\textsubscript{c} = 30 keV};
\node[anno] at (110,-497) {(G) 1F11\\\textit{t}\textsubscript{inj} = 20 s\\\textit{δ} = 5\\E\textsubscript{c} = 10 keV};
\node[anno] at (231.5,-497) {(H) 1F11\\\textit{t}\textsubscript{inj} = 20 s\\\textit{δ} = 5\\E\textsubscript{c} = 30 keV};
\end{tikzpicture}
\end{document}
